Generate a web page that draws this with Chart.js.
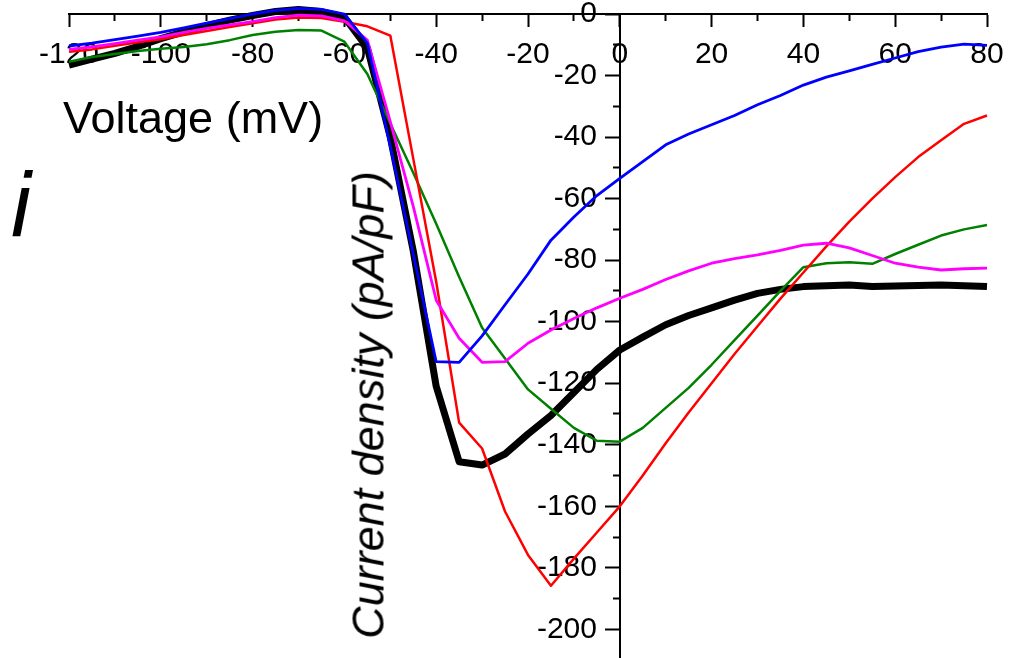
<!DOCTYPE html>
<html>
<head>
<meta charset="utf-8">
<script src="https://cdn.jsdelivr.net/npm/chart.js@4.4.1/dist/chart.umd.min.js"></script>
<style>
  html, body { margin: 0; padding: 0; background: #fff; }
  #wrap { position: relative; width: 1011px; height: 658px; overflow: hidden; font-family: "Liberation Sans", Arial, sans-serif; }
  #wrap canvas { position: absolute; left: 0; top: 0; }
  .lbl { position: absolute; white-space: nowrap; color: #000; }
  #xtitle { left: 63px; top: 95px; font-size: 45px; line-height: 45px; }
  #ytitle { left: 367.5px; top: 405px; font-size: 45px; line-height: 45px; font-style: italic; transform: translate(-50%, -50%) rotate(-90deg); }
  #panel { left: 11px; top: 160px; font-size: 90px; line-height: 90px; font-style: italic; }
</style>
</head>
<body>
<div id="wrap">
  <canvas id="c"></canvas>
  <div class="lbl" id="xtitle">Voltage (mV)</div>
  <div class="lbl" id="ytitle">Current density (pA/pF)</div>
  <div class="lbl" id="panel">i</div>
</div>
<script>
// Voltage steps (mV)
const voltage = [-120,-115,-110,-105,-100,-95,-90,-85,-80,-75,-70,-65,-60,-55,-50,-45,-40,-35,-30,-25,-20,-15,-10,-5,0,5,10,15,20,25,30,35,40,45,50,55,60,65,70,75,80];

// Current density series (pA/pF)
const blackSeries = [-16.6,-14.7,-12.8,-10.5,-8,-5.8,-3.8,-2,-0.5,0.8,1.5,0.8,-1,-11,-40,-77,-121,-145.5,-146.6,-143,-136.5,-130.5,-123,-115.5,-109.2,-105,-101,-98,-95.5,-93,-90.8,-89.5,-88.6,-88.3,-88.1,-88.6,-88.4,-88.2,-88.1,-88.3,-88.6];
const blueSeries = [-10.4,-9.5,-8.3,-7.2,-6,-4.5,-3,-1.5,0,1.2,1.8,1.5,0,-9.5,-43,-78,-113,-113.2,-104.6,-94.5,-84.5,-73.5,-66,-59,-53.4,-48,-42.5,-39,-36,-33,-29.5,-26.5,-23.1,-20.5,-18.5,-16.4,-14.3,-12.2,-10.8,-9.8,-10.2];
const redSeries = [-12.3,-11.5,-10.3,-9.2,-8.2,-6.8,-5.5,-4.2,-3,-1.8,-1.1,-1.3,-2.5,-4,-7,-47,-87,-132.8,-141.2,-161.7,-175.8,-185.8,-177,-168.5,-160,-150,-139.5,-129.5,-120,-110.5,-101.5,-92.5,-84,-75.5,-67.5,-60,-53,-46.5,-41,-35.7,-33];
const magentaSeries = [-11.5,-10.7,-9.6,-8.5,-7.4,-6,-4.7,-3.5,-2.5,-1.2,-0.4,-0.6,-2.2,-8.5,-35,-62.5,-93,-105.4,-113.2,-113,-107,-102.7,-99,-95.5,-92.4,-89.5,-86.3,-83.5,-81,-79.5,-78.3,-76.8,-75.1,-74.5,-76,-78.5,-81,-82.3,-83.2,-82.8,-82.6];
const greenSeries = [-15.5,-14,-13,-12,-11.3,-10.7,-9.8,-8.5,-6.8,-5.8,-5.2,-5.4,-9,-19.5,-35.6,-51.6,-68.2,-85.5,-102,-112,-122,-128.3,-134.5,-138.7,-139,-134.5,-128,-121.5,-114,-106,-98,-90,-82.3,-81,-80.7,-81.2,-78,-75,-72,-70,-68.6];

// Tick values
const xMajorTicks = [-120,-100,-80,-60,-40,-20,0,20,40,60,80];
const xMinorTicks = [-110,-90,-70,-50,-30,-10,10,30,50,70];
const yMajorTicks = [-200,-180,-160,-140,-120,-100,-80,-60,-40,-20,0];
const yMinorTicks = [-210,-190,-170,-150,-130,-110,-90,-70,-50,-30,-10];

const X_MIN = -120, X_MAX = 80, Y_MIN = -209.3, Y_MAX = 0;
const FONT = { family: '"Liberation Sans", Arial, sans-serif', size: 30 };

function pts(ys) { return voltage.map((v, i) => ({ x: v, y: ys[i] })); }
function setTicks(arr) { return function (scale) { scale.ticks = arr.map(v => ({ value: v })); }; }
function noSpace(s) {
  s.paddingTop = 0; s.paddingBottom = 0; s.paddingLeft = 0; s.paddingRight = 0;
  if (s.isHorizontal()) { s.height = 0; } else { s.width = 0; }
}

const ds = (data, color, width, order) => ({
  data: pts(data), borderColor: color, backgroundColor: color, borderWidth: width,
  pointRadius: 0, tension: 0, fill: false, clip: false, order: order,
  borderJoinStyle: 'round', borderCapStyle: 'butt'
});

new Chart(document.getElementById('c'), {
  type: 'line',
  data: {
    datasets: [
      ds(blueSeries, '#0000ff', 2.8, 0),
      ds(magentaSeries, '#ff00ff', 2.8, 1),
      ds(redSeries, '#ff0000', 2.5, 2),
      ds(greenSeries, '#008000', 2.5, 3),
      ds(blackSeries, '#000000', 7, 4)
    ]
  },
  options: {
    responsive: true,
    maintainAspectRatio: false,
    animation: false,
    layout: { padding: { left: 69, right: 24, top: 14, bottom: 0 }, autoPadding: false },
    plugins: { legend: { display: false }, tooltip: { enabled: false } },
    scales: {
      x: {
        type: 'linear', min: X_MIN, max: X_MAX, position: { y: 0 },
        afterBuildTicks: setTicks(xMajorTicks), afterFit: noSpace,
        ticks: { font: FONT, color: '#000', padding: 11, autoSkip: false, maxRotation: 0, callback: v => String(v) },
        grid: { drawOnChartArea: false, drawTicks: true, tickLength: 12, tickWidth: 2, tickColor: '#000' },
        border: { display: true, color: '#000', width: 2 }
      },
      xm: {
        type: 'linear', min: X_MIN, max: X_MAX, position: { y: 0 },
        afterBuildTicks: setTicks(xMinorTicks), afterFit: noSpace,
        ticks: { font: FONT, autoSkip: false, maxRotation: 0, callback: () => '' },
        grid: { drawOnChartArea: false, drawTicks: true, tickLength: 7, tickWidth: 2, tickColor: '#000' },
        border: { display: false }
      },
      y: {
        type: 'linear', min: Y_MIN, max: Y_MAX, position: { x: 0 },
        afterBuildTicks: setTicks(yMajorTicks), afterFit: noSpace,
        ticks: { font: FONT, autoSkip: false, callback: () => '' },
        grid: { drawOnChartArea: false, drawTicks: true, tickLength: 14, tickWidth: 2, tickColor: '#000' },
        border: { display: true, color: '#000', width: 2 }
      },
      ym: {
        type: 'linear', min: Y_MIN, max: Y_MAX, position: { x: 0 },
        afterBuildTicks: setTicks(yMinorTicks), afterFit: noSpace,
        ticks: { font: FONT, autoSkip: false, callback: () => '' },
        grid: { drawOnChartArea: false, drawTicks: true, tickLength: 7, tickWidth: 2, tickColor: '#000' },
        border: { display: false }
      },
      yl: {
        type: 'linear', min: Y_MIN, max: Y_MAX, position: { x: -4.97 },
        afterBuildTicks: setTicks(yMajorTicks), afterFit: noSpace,
        ticks: { font: FONT, color: '#000', padding: 0, autoSkip: false, callback: v => String(v) },
        grid: { display: false, drawTicks: false },
        border: { display: false }
      }
    }
  }
});
</script>
</body>
</html>
